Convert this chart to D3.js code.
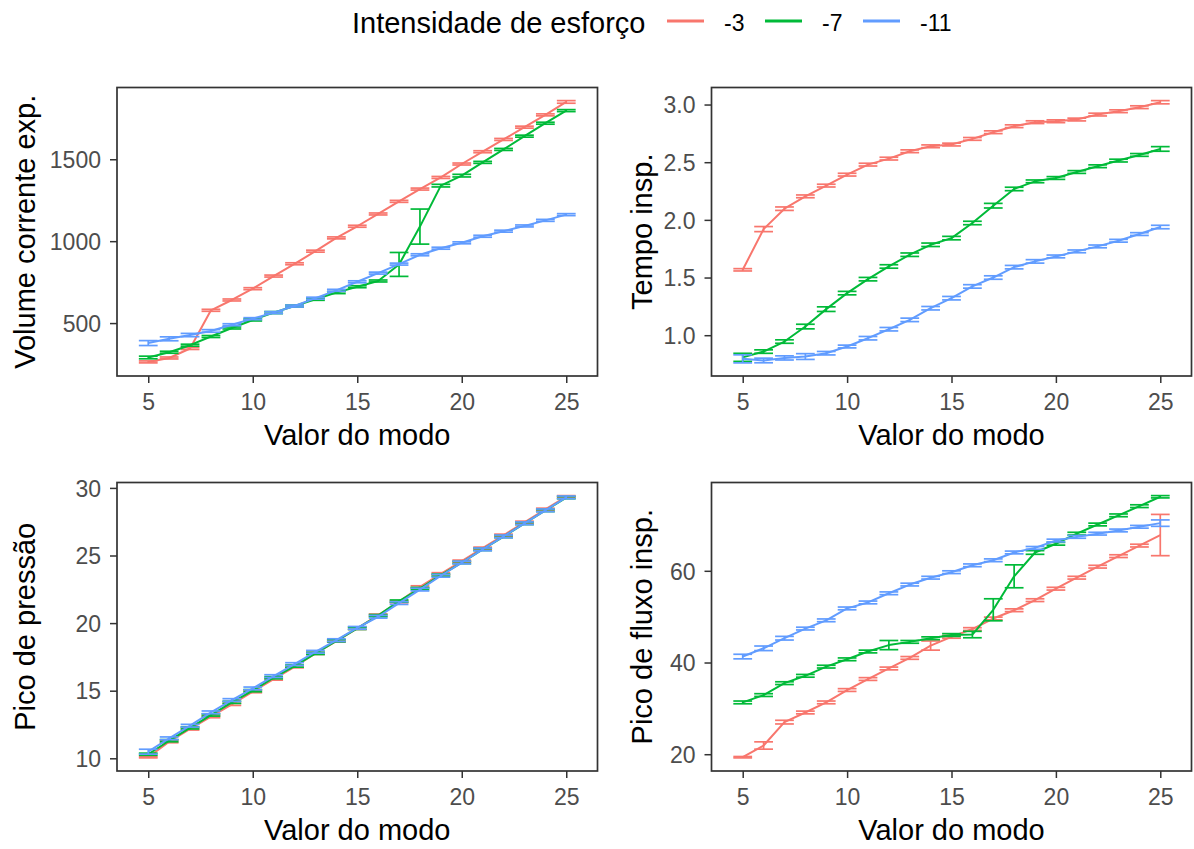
<!DOCTYPE html>
<html>
<head>
<meta charset="utf-8">
<script src="https://cdn.jsdelivr.net/npm/d3@7"></script>
<style>
  body { margin: 0; background: #ffffff; }
  text { font-family: "Liberation Sans", Arial, Helvetica, sans-serif; }
</style>
</head>
<body>
<svg id="chart" width="1194" height="849"></svg>
<script>
// ---- data -------------------------------------------------------------
const modeValues = [5, 6, 7, 8, 9, 10, 11, 12, 13, 14, 15, 16, 17, 18, 19, 20, 21, 22, 23, 24, 25];
const effortLevels = ["-3", "-7", "-11"];
const effortColors = ["#F8766D", "#00BA38", "#619CFF"];
const xTicks = [5, 10, 15, 20, 25];

// Volume corrente exp. (mean, standard error)
const volumeMinus3    = [263, 287, 345, 578, 641, 710, 787, 862, 939, 1020, 1091, 1166, 1243, 1318, 1389, 1471, 1546, 1621, 1696, 1771, 1850];
const volumeMinus3Se  = [6, 6, 6, 6, 6, 6, 6, 6, 6, 6, 6, 6, 6, 6, 6, 6, 6, 6, 6, 6, 8];
const volumeMinus7    = [290, 322, 365, 418, 470, 519, 564, 604, 645, 686, 722, 757, 858, 1089, 1339, 1400, 1481, 1560, 1641, 1720, 1797];
const volumeMinus7Se  = [8, 6, 6, 6, 6, 6, 6, 6, 6, 6, 6, 6, 73, 107, 8, 8, 6, 6, 6, 6, 6];
const volumeMinus11   = [378, 404, 427, 452, 490, 527, 564, 604, 652, 700, 752, 805, 860, 917, 957, 990, 1030, 1061, 1093, 1127, 1162];
const volumeMinus11Se = [15, 12, 10, 8, 6, 6, 6, 6, 6, 6, 6, 6, 6, 6, 6, 6, 6, 6, 6, 6, 6];
const volumeTicks = [500, 1000, 1500];

// Tempo insp.
const timeMinus3    = [1.567, 1.92, 2.097, 2.204, 2.297, 2.392, 2.479, 2.531, 2.595, 2.638, 2.653, 2.702, 2.76, 2.812, 2.847, 2.855, 2.87, 2.913, 2.942, 2.977, 3.02];
const timeMinus3Se  = [0.01, 0.022, 0.015, 0.012, 0.012, 0.012, 0.012, 0.012, 0.012, 0.012, 0.012, 0.012, 0.012, 0.012, 0.012, 0.012, 0.012, 0.012, 0.012, 0.012, 0.014];
const timeMinus7    = [0.808, 0.858, 0.945, 1.075, 1.226, 1.365, 1.486, 1.596, 1.698, 1.784, 1.842, 1.973, 2.123, 2.268, 2.334, 2.363, 2.415, 2.465, 2.514, 2.563, 2.615];
const timeMinus7Se  = [0.035, 0.015, 0.015, 0.02, 0.02, 0.015, 0.015, 0.015, 0.015, 0.015, 0.015, 0.015, 0.02, 0.015, 0.012, 0.012, 0.012, 0.012, 0.012, 0.012, 0.02];
const timeMinus11   = [0.795, 0.781, 0.803, 0.815, 0.844, 0.902, 0.974, 1.052, 1.133, 1.234, 1.321, 1.423, 1.50, 1.59, 1.64, 1.683, 1.727, 1.77, 1.819, 1.877, 1.938];
const timeMinus11Se = [0.035, 0.02, 0.018, 0.025, 0.015, 0.012, 0.015, 0.015, 0.015, 0.015, 0.015, 0.015, 0.015, 0.015, 0.015, 0.012, 0.012, 0.012, 0.012, 0.012, 0.015];
const timeTicks = [1.0, 1.5, 2.0, 2.5, 3.0];

// Pico de pressão
const pressureMinus3    = [10.08, 11.23, 12.17, 13.08, 13.99, 14.93, 15.86, 16.77, 17.76, 18.67, 19.61, 20.59, 21.58, 22.68, 23.65, 24.58, 25.54, 26.5, 27.46, 28.42, 29.36];
const pressureMinus3Se  = [0.05, 0.08, 0.08, 0.08, 0.08, 0.08, 0.08, 0.08, 0.08, 0.08, 0.08, 0.08, 0.08, 0.08, 0.08, 0.08, 0.08, 0.08, 0.08, 0.08, 0.07];
const pressureMinus7    = [10.3, 11.3, 12.25, 13.2, 14.14, 15.0, 15.96, 16.82, 17.76, 18.69, 19.61, 20.55, 21.63, 22.56, 23.55, 24.48, 25.45, 26.4, 27.37, 28.33, 29.28];
const pressureMinus7Se  = [0.08, 0.08, 0.08, 0.08, 0.08, 0.08, 0.08, 0.08, 0.08, 0.08, 0.08, 0.08, 0.08, 0.08, 0.08, 0.08, 0.08, 0.08, 0.08, 0.08, 0.08];
const pressureMinus11   = [10.49, 11.48, 12.41, 13.4, 14.31, 15.17, 16.08, 16.97, 17.88, 18.74, 19.65, 20.47, 21.48, 22.48, 23.5, 24.48, 25.45, 26.41, 27.38, 28.34, 29.3];
const pressureMinus11Se = [0.18, 0.1, 0.1, 0.1, 0.1, 0.1, 0.1, 0.1, 0.1, 0.1, 0.1, 0.1, 0.1, 0.1, 0.1, 0.1, 0.1, 0.1, 0.1, 0.1, 0.1];
const pressureTicks = [10, 15, 20, 25, 30];

// Pico de fluxo insp.
const flowMinus3    = [19.35, 21.9, 27.0, 29.1, 31.3, 34.0, 36.4, 38.7, 41.0, 43.7, 45.6, 47.3, 49.6, 51.4, 53.6, 56.1, 58.5, 60.9, 63.2, 65.5, 67.8];
const flowMinus3Se  = [0.15, 0.8, 0.4, 0.3, 0.3, 0.3, 0.3, 0.3, 0.3, 1.0, 0.3, 0.3, 0.3, 0.3, 0.3, 0.3, 0.3, 0.3, 0.3, 0.3, 4.5];
const flowMinus7    = [31.3, 32.9, 35.5, 37.1, 39.1, 40.7, 42.4, 43.8, 44.5, 45.3, 46.0, 46.1, 51.5, 58.8, 64.0, 65.9, 68.1, 70.1, 72.1, 74.1, 76.15];
const flowMinus7Se  = [0.3, 0.3, 0.3, 0.3, 0.3, 0.3, 0.3, 1.0, 0.3, 0.3, 0.3, 0.7, 2.4, 2.5, 0.4, 0.3, 0.3, 0.3, 0.3, 0.3, 0.25];
const flowMinus11   = [41.3, 43.1, 45.3, 47.4, 49.2, 51.8, 53.1, 55.1, 57.0, 58.5, 59.7, 61.2, 62.3, 64.0, 65.0, 66.6, 67.4, 68.1, 68.8, 69.6, 70.4];
const flowMinus11Se = [0.5, 0.5, 0.4, 0.3, 0.3, 0.3, 0.3, 0.3, 0.3, 0.3, 0.3, 0.3, 0.3, 0.3, 0.3, 0.3, 0.3, 0.3, 0.3, 0.3, 0.7];
const flowTicks = [20, 40, 60];

const xTitle = "Valor do modo";
const legendTitle = "Intensidade de esforço";

// ---- panel definitions ------------------------------------------------
const panels = [
  { yTitle: "Volume corrente exp.", ticks: volumeTicks, fmt: d3.format("d"),
    means: [volumeMinus3, volumeMinus7, volumeMinus11], ses: [volumeMinus3Se, volumeMinus7Se, volumeMinus11Se],
    left: 117, right: 597.5, top: 87.5, bottom: 376, titleX: 35 },
  { yTitle: "Tempo insp.", ticks: timeTicks, fmt: d3.format(".1f"),
    means: [timeMinus3, timeMinus7, timeMinus11], ses: [timeMinus3Se, timeMinus7Se, timeMinus11Se],
    left: 711.5, right: 1191.5, top: 87.5, bottom: 376, titleX: 652 },
  { yTitle: "Pico de pressão", ticks: pressureTicks, fmt: d3.format("d"),
    means: [pressureMinus3, pressureMinus7, pressureMinus11], ses: [pressureMinus3Se, pressureMinus7Se, pressureMinus11Se],
    left: 117, right: 597.5, top: 482.5, bottom: 771, titleX: 35 },
  { yTitle: "Pico de fluxo insp.", ticks: flowTicks, fmt: d3.format("d"),
    means: [flowMinus3, flowMinus7, flowMinus11], ses: [flowMinus3Se, flowMinus7Se, flowMinus11Se],
    left: 711.5, right: 1191.5, top: 482.5, bottom: 771, titleX: 652 }
];

const svg = d3.select("#chart");
const capHalf = 0.45;           // error bar cap half-width in x units
const tickLen = 7;
const tickColor = "#333333";
const labelColor = "#4D4D4D";
const titleSize = 29;
const labelSize = 23;

function expand(lo, hi) {
  const pad = (hi - lo) * 0.05;
  return [lo - pad, hi + pad];
}

panels.forEach(p => {
  const g = svg.append("g");

  const xs = d3.scaleLinear()
    .domain(expand(d3.min(modeValues) - capHalf, d3.max(modeValues) + capHalf))
    .range([p.left, p.right]);

  let lo = Infinity, hi = -Infinity;
  p.means.forEach((m, s) => m.forEach((v, i) => {
    lo = Math.min(lo, v - p.ses[s][i]);
    hi = Math.max(hi, v + p.ses[s][i]);
  }));
  const ys = d3.scaleLinear().domain(expand(lo, hi)).range([p.bottom, p.top]);

  // panel background
  g.append("rect")
    .attr("x", p.left).attr("y", p.top)
    .attr("width", p.right - p.left).attr("height", p.bottom - p.top)
    .attr("fill", "#ffffff");

  // series: error bars then line, one group at a time
  p.means.forEach((m, s) => {
    const color = effortColors[s];
    const rows = modeValues.map((x, i) => ({ x, y: m[i], se: p.ses[s][i] }));
    const sg = g.append("g").attr("class", "series");

    const eb = sg.selectAll("g.eb").data(rows).join("g").attr("class", "eb")
      .attr("stroke", color).attr("stroke-width", 1.7).attr("fill", "none");
    eb.append("line")
      .attr("x1", d => xs(d.x)).attr("x2", d => xs(d.x))
      .attr("y1", d => ys(d.y - d.se)).attr("y2", d => ys(d.y + d.se));
    eb.append("line")
      .attr("x1", d => xs(d.x - capHalf)).attr("x2", d => xs(d.x + capHalf))
      .attr("y1", d => ys(d.y + d.se)).attr("y2", d => ys(d.y + d.se));
    eb.append("line")
      .attr("x1", d => xs(d.x - capHalf)).attr("x2", d => xs(d.x + capHalf))
      .attr("y1", d => ys(d.y - d.se)).attr("y2", d => ys(d.y - d.se));

    sg.append("path")
      .datum(rows)
      .attr("fill", "none")
      .attr("stroke", color)
      .attr("stroke-width", 2)
      .attr("stroke-linejoin", "round")
      .attr("d", d3.line().x(d => xs(d.x)).y(d => ys(d.y)));
  });

  // panel border
  g.append("rect")
    .attr("x", p.left).attr("y", p.top)
    .attr("width", p.right - p.left).attr("height", p.bottom - p.top)
    .attr("fill", "none").attr("stroke", tickColor).attr("stroke-width", 1.7);

  // x axis
  const xa = g.append("g")
    .attr("transform", `translate(0,${p.bottom})`)
    .call(d3.axisBottom(xs).tickValues(xTicks).tickSize(tickLen).tickPadding(10).tickFormat(d3.format("d")));
  xa.select(".domain").remove();
  xa.selectAll(".tick line").attr("stroke", tickColor).attr("stroke-width", 1.5);
  xa.selectAll(".tick text").attr("fill", labelColor).attr("font-size", labelSize)
    .attr("font-family", "'Liberation Sans', Arial, sans-serif").attr("dy", "0.72em");

  // y axis
  const ya = g.append("g")
    .attr("transform", `translate(${p.left},0)`)
    .call(d3.axisLeft(ys).tickValues(p.ticks).tickSize(tickLen).tickPadding(9).tickFormat(p.fmt));
  ya.select(".domain").remove();
  ya.selectAll(".tick line").attr("stroke", tickColor).attr("stroke-width", 1.5);
  ya.selectAll(".tick text").attr("fill", labelColor).attr("font-size", labelSize)
    .attr("font-family", "'Liberation Sans', Arial, sans-serif").attr("dy", "0.36em");

  // axis titles
  g.append("text")
    .attr("x", (p.left + p.right) / 2).attr("y", p.bottom + 69)
    .attr("text-anchor", "middle").attr("font-size", titleSize).attr("fill", "#000000")
    .text(xTitle);
  g.append("text")
    .attr("transform", `translate(${p.titleX},${(p.top + p.bottom) / 2}) rotate(-90)`)
    .attr("text-anchor", "middle").attr("font-size", titleSize).attr("fill", "#000000")
    .text(p.yTitle);
});

// ---- legend -----------------------------------------------------------
const legend = svg.append("g");
legend.append("text")
  .attr("x", 352).attr("y", 33)
  .attr("font-size", titleSize).attr("fill", "#000000")
  .text(legendTitle);

const keyX = d3.scalePoint().domain(effortLevels).range([667, 863]);
const keys = legend.selectAll("g.key").data(effortLevels).join("g").attr("class", "key");
keys.append("line")
  .attr("x1", d => keyX(d)).attr("x2", d => keyX(d) + 37)
  .attr("y1", 21).attr("y2", 21)
  .attr("stroke", (d, i) => effortColors[i]).attr("stroke-width", 3);
keys.append("text")
  .attr("x", d => keyX(d) + 57).attr("y", 31)
  .attr("font-size", labelSize).attr("fill", "#000000")
  .text(d => d);
</script>
</body>
</html>
